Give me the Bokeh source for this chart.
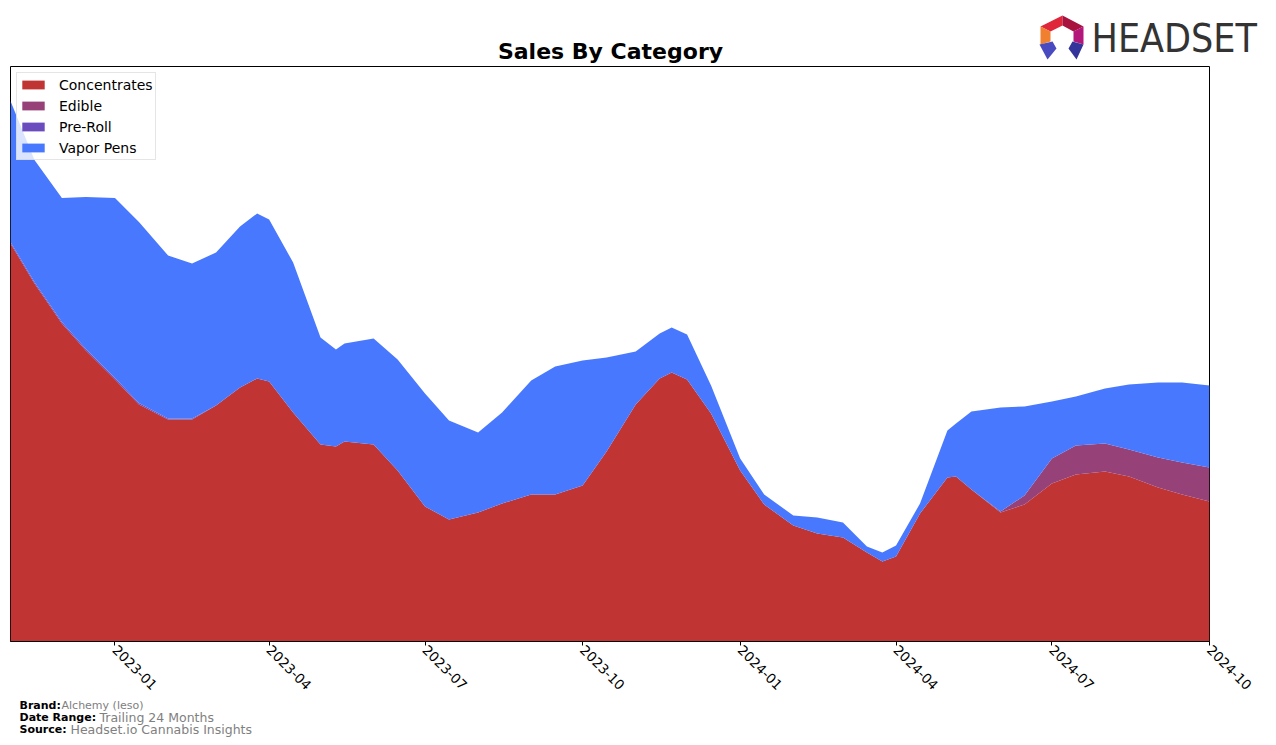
import math
from datetime import datetime
import pandas as pd
from bokeh.plotting import figure
from bokeh.layouts import column
from bokeh.models import (ColumnDataSource, Range1d, Label,
                          DatetimeTickFormatter, MonthsTicker)
from bokeh.embed import file_html
from bokeh.resources import INLINE

# ---------------- data ----------------
dates = [
    "2022-11-01", "2022-11-15", "2022-12-01", "2022-12-15",
    "2023-01-01", "2023-01-15", "2023-02-01", "2023-02-15",
    "2023-03-01", "2023-03-15", "2023-03-25", "2023-04-01", "2023-04-15",
    "2023-05-01", "2023-05-10", "2023-05-15", "2023-06-01", "2023-06-15",
    "2023-07-01", "2023-07-15", "2023-08-01", "2023-08-15",
    "2023-09-01", "2023-09-15", "2023-10-01", "2023-10-15",
    "2023-11-01", "2023-11-15", "2023-11-22", "2023-12-01", "2023-12-15",
    "2024-01-01", "2024-01-15", "2024-02-01", "2024-02-15",
    "2024-03-01", "2024-03-15", "2024-03-24", "2024-04-01", "2024-04-15",
    "2024-05-01", "2024-05-06", "2024-05-15", "2024-06-01", "2024-06-15",
    "2024-07-01", "2024-07-15", "2024-08-01", "2024-08-15",
    "2024-09-01", "2024-09-15", "2024-10-01",
]
concentrates = [398, 358, 318, 291,
                262, 237, 222, 222,
                236, 254, 263, 260, 229,
                197, 195, 200, 197, 171,
                135, 122, 129, 138,
                147, 147, 156, 190,
                237, 263, 269, 262, 228,
                171, 137, 116, 108,
                104, 89, 80, 85, 128,
                164, 165, 152, 129, 137,
                158, 167, 170, 165,
                154, 147, 140]
edible = [0, 0, 0, 0,
          0, 0, 0, 0,
          0, 0, 0, 0, 0,
          0, 0, 0, 0, 0,
          0, 0, 0, 0,
          0, 0, 0, 0,
          0, 0, 0, 0, 0,
          0, 0, 0, 0,
          0, 0, 0, 0, 0,
          0, 0, 0, 1, 9,
          25, 29, 28, 27,
          30, 32, 34]
pre_roll = [1.5, 1.5, 1.5, 1.5,
            1.5, 1.5, 1, 1,
            0, 0, 0, 0, 0,
            0, 0, 0, 0, 0,
            0, 0, 0, 0,
            0, 0, 0, 0,
            0, 0, 0, 0, 0,
            0, 0, 0, 0,
            0, 0, 0, 0, 0,
            0, 0, 0, 0, 0,
            0, 0, 0, 0,
            0, 0, 0]
vapor_pens = [141, 122, 124, 152,
              180, 181, 163, 155,
              153, 161, 165, 162, 150,
              107, 97, 98, 106, 111,
              113, 99, 80, 91,
              114, 128, 125, 94,
              53, 45, 45, 45, 28,
              12, 10, 10, 16,
              15, 6, 9, 11, 10,
              47, 53, 78, 104, 89,
              57, 49, 55, 65,
              75, 80, 82]

categories = ["Concentrates", "Edible", "Pre-Roll", "Vapor Pens"]
colors = ["#c03433", "#964178", "#6a4cbe", "#4878fe"]

src = ColumnDataSource({
    "date": pd.to_datetime(dates),
    "Concentrates": concentrates,
    "Edible": edible,
    "Pre-Roll": pre_roll,
    "Vapor Pens": vapor_pens,
})

W = 1276
HEAD_H = 65
MAIN_H = 633
FOOT_H = 745 - HEAD_H - MAIN_H


def blank_fig(h, y_top):
    f = figure(width=W, height=h, x_range=Range1d(0, W),
               y_range=Range1d(y_top + h, y_top),
               output_backend="svg", toolbar_location=None,
               x_axis_location=None, y_axis_location=None,
               min_border=0, min_border_left=0, min_border_right=0,
               min_border_top=0, min_border_bottom=0)
    f.frame_align = False
    f.outline_line_color = None
    f.xgrid.visible = False
    f.ygrid.visible = False
    f.background_fill_color = "white"
    f.border_fill_color = "white"
    return f


# ---------------- header (title + logo) ----------------
head = blank_fig(HEAD_H, 0)
head.add_layout(Label(x=610, y=51, text="Sales By Category", text_align="center",
                      text_baseline="middle", text_font="DejaVu Sans",
                      text_font_style="bold", text_font_size="22px",
                      text_color="black"))
logo_xs = [
    [1040, 1062, 1062, 1050],
    [1062, 1083, 1073, 1062],
    [1083, 1083, 1073, 1073],
    [1040, 1040, 1050, 1050],
    [1039, 1052, 1056, 1047],
    [1083, 1072, 1068, 1076],
]
logo_ys = [
    [26, 15, 25, 31],
    [15, 26, 31, 25],
    [26, 44, 41, 31],
    [26, 44, 41, 31],
    [44, 41, 48, 59],
    [44, 41, 48, 59],
]
logo_colors = ["#e0263a", "#a8123f", "#b3177a", "#f08030", "#4a4ac0", "#34349a"]
head.patches(xs=logo_xs, ys=logo_ys, fill_color=logo_colors, line_color=None)
head.add_layout(Label(x=1091, y=38, text="HEADSET", text_align="left",
                      text_baseline="middle",
                      text_font="Liberation Sans Narrow, DejaVu Sans Condensed, sans-serif",
                      text_font_size="39px", text_color="#333333"))

# ---------------- main chart ----------------
p = figure(width=W, height=MAIN_H, x_axis_type="datetime",
           x_range=Range1d(datetime(2022, 11, 1), datetime(2024, 10, 1)),
           y_range=Range1d(0, 575),
           output_backend="svg", toolbar_location=None,
           min_border_left=10, min_border_right=67,
           min_border_top=1, min_border_bottom=MAIN_H - 576)
p.frame_align = False
p.background_fill_color = "white"
p.border_fill_color = "white"
p.outline_line_color = "black"
p.outline_line_width = 1
p.xgrid.visible = False
p.ygrid.visible = False
p.yaxis.visible = False

p.varea_stack(stackers=categories, x="date", color=colors,
              legend_label=categories, source=src)

ax = p.xaxis[0]
ax.ticker = MonthsTicker(months=[0, 3, 6, 9])
ax.formatter = DatetimeTickFormatter(months="%Y-%m", years="%Y-%m", days="%Y-%m")
ax.major_label_orientation = -math.pi / 4
ax.major_label_text_font = "DejaVu Sans"
ax.major_label_text_font_size = "13.5px"
ax.major_label_text_color = "black"
ax.major_label_standoff = 2
ax.major_tick_out = 4
ax.major_tick_in = 0
ax.minor_tick_out = 0
ax.minor_tick_in = 0
ax.axis_line_color = "black"
ax.major_tick_line_color = "black"

lg = p.legend[0]
lg.location = "top_left"
lg.margin = 6
lg.padding = 2
lg.spacing = 2
lg.label_height = 19
lg.glyph_width = 28
lg.glyph_height = 11
lg.label_standoff = 12
lg.label_text_font = "DejaVu Sans"
lg.label_text_font_size = "14px"
lg.label_text_color = "black"
lg.border_line_color = "#cccccc"
lg.border_line_width = 1
lg.background_fill_color = "white"
lg.background_fill_alpha = 0.8

# ---------------- footer ----------------
foot = blank_fig(FOOT_H, HEAD_H + MAIN_H)
footer = [
    (705, "Brand:", 61, "Alchemy (leso)", "11px"),
    (717, "Date Range:", 99, "Trailing 24 Months", "12.5px"),
    (729, "Source:", 70, "Headset.io Cannabis Insights", "12.5px"),
]
for yy, lab, vx, val, vsize in footer:
    foot.add_layout(Label(x=19, y=yy, text=lab, text_align="left",
                          text_baseline="middle", text_font="DejaVu Sans",
                          text_font_style="bold", text_font_size="11px",
                          text_color="black"))
    foot.add_layout(Label(x=vx, y=yy, text=val, text_align="left",
                          text_baseline="middle", text_font="DejaVu Sans",
                          text_font_size=vsize, text_color="#808080"))

layout = column(head, p, foot, spacing=0)
open("out.html", "w").write(file_html(layout, INLINE))
